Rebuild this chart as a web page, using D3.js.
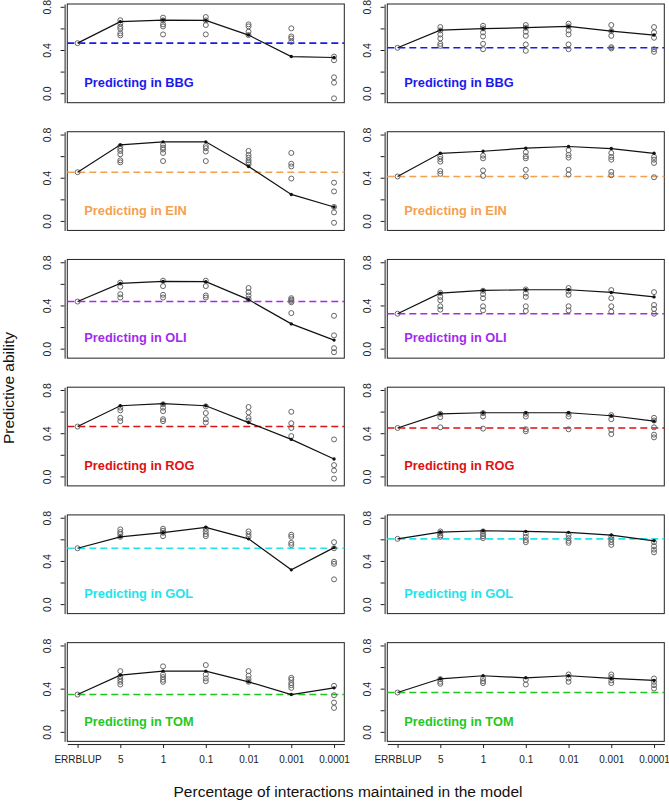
<!DOCTYPE html>
<html><head><meta charset="utf-8">
<script src="https://cdn.jsdelivr.net/npm/d3@7"></script>
<style>body{margin:0;background:#fff}svg{display:block}</style>
</head><body><div id="chart"></div>
<script>
const categories = ["ERRBLUP","5","1","0.1","0.01","0.001","0.0001"];
const environments = ["BBG","EIN","OLI","ROG","GOL","TOM"];
const envColors = ["#1a1aee","#f4a050","#a32af0","#dd1111","#22e4ec","#1ec81e"];
const yTicks = [0.0,0.2,0.4,0.6,0.8];
const yTickLabels = ["0.0","","0.4","","0.8"];

// mean line values (first = ERRBLUP baseline)
const leftMeans = [
  [0.468,0.667,0.682,0.679,0.543,0.344,0.335],
  [0.456,0.709,0.737,0.737,0.509,0.250,0.134],
  [0.441,0.609,0.628,0.625,0.459,0.234,0.084],
  [0.466,0.659,0.678,0.659,0.503,0.347,0.166],
  [0.522,0.628,0.666,0.716,0.609,0.322,0.528],
  [0.350,0.530,0.567,0.567,0.468,0.350,0.412]
];
const rightMeans = [
  [0.425,0.589,0.602,0.611,0.623,0.580,0.543],
  [0.416,0.631,0.650,0.678,0.694,0.675,0.631],
  [0.328,0.519,0.544,0.550,0.550,0.525,0.484],
  [0.453,0.584,0.594,0.594,0.594,0.566,0.516],
  [0.609,0.672,0.684,0.678,0.669,0.644,0.591],
  [0.369,0.496,0.524,0.505,0.524,0.499,0.481]
];
// individual predictions (grey circles), per category
const leftPoints = [
  [[0.468],[0.68,0.65,0.62,0.60,0.56,0.54],[0.704,0.679,0.642,0.623,0.549],[0.71,0.679,0.636,0.549],[0.642,0.623,0.574,0.543],[0.605,0.53,0.512,0.48],[0.344,0.31,0.152,0.102,-0.043]],
  [[0.456],[0.697,0.672,0.653,0.622,0.566,0.547],[0.709,0.684,0.666,0.634,0.559],[0.697,0.678,0.647,0.559],[0.653,0.616,0.591,0.566,0.547,0.528],[0.634,0.534,0.509,0.397],[0.359,0.278,0.134,0.084,-0.0125]],
  [[0.441],[0.616,0.578,0.509,0.478],[0.634,0.584,0.503,0.478],[0.634,0.584,0.497,0.478],[0.566,0.528,0.497,0.466],[0.472,0.459,0.447,0.434,0.334],[0.309,0.128,0.009,-0.028]],
  [[0.466],[0.641,0.616,0.547,0.516],[0.672,0.641,0.609,0.534,0.516],[0.653,0.591,0.534,0.503],[0.647,0.597,0.547,0.522],[0.603,0.497,0.453,0.378],[0.347,0.109,0.059,-0.016]],
  [[0.522],[0.697,0.672,0.653,0.628],[0.703,0.684,0.666,0.634],[0.703,0.678,0.653,0.634],[0.678,0.653,0.628],[0.647,0.628,0.572,0.553],[0.578,0.522,0.397,0.378,0.234]],
  [[0.350],[0.567,0.518,0.493,0.468,0.443],[0.611,0.536,0.512,0.487,0.468],[0.623,0.536,0.499,0.474],[0.567,0.524,0.493,0.468],[0.505,0.487,0.456,0.437,0.412],[0.431,0.344,0.276,0.226]]
];
const rightPoints = [
  [[0.425],[0.617,0.586,0.549,0.512,0.462,0.443],[0.629,0.605,0.567,0.53,0.462,0.412],[0.636,0.611,0.574,0.536,0.456,0.397],[0.648,0.623,0.586,0.549,0.456,0.412],[0.636,0.58,0.536,0.431,0.419],[0.617,0.567,0.518,0.412,0.388]],
  [[0.416],[0.603,0.578,0.553,0.466,0.441],[0.609,0.584,0.472,0.422],[0.641,0.603,0.584,0.478,0.416],[0.659,0.616,0.591,0.478,0.434],[0.634,0.597,0.572,0.459,0.428],[0.597,0.572,0.541,0.409]],
  [[0.328],[0.522,0.484,0.453,0.397,0.366],[0.541,0.509,0.472,0.397,0.359],[0.553,0.516,0.484,0.397,0.353],[0.566,0.534,0.503,0.397,0.359],[0.547,0.472,0.397,0.347],[0.528,0.409,0.372,0.328]],
  [[0.453],[0.584,0.553,0.459],[0.591,0.559,0.447],[0.584,0.559,0.441,0.422],[0.584,0.559,0.441],[0.572,0.534,0.434,0.397],[0.547,0.522,0.459,0.391,0.366]],
  [[0.609],[0.678,0.659,0.641,0.628],[0.678,0.653,0.634,0.616],[0.659,0.628,0.597,0.578],[0.647,0.616,0.591,0.572],[0.628,0.603,0.578,0.553],[0.578,0.541,0.509,0.484]],
  [[0.369],[0.493,0.468,0.450],[0.499,0.474,0.456],[0.487,0.443],[0.536,0.499,0.468],[0.536,0.512,0.481,0.456],[0.499,0.468,0.437,0.406]]
];

const W = 669, H = 802;
const svg = d3.select("#chart").append("svg").attr("width", W).attr("height", H)
  .style("font-family", "'Liberation Sans', Arial, Helvetica, sans-serif");

const colLeft = [67.3, 387.3];
const boxW = 277;
const rowTop0 = 4, rowPitch = 127.73, boxH = 98.7;

function drawPanel(col, row, means, points) {
  const x0 = colLeft[col], y0 = rowTop0 + row * rowPitch;
  const x = d3.scaleLinear().domain([0.76, 7.24]).range([x0, x0 + boxW]);
  const y = d3.scaleLinear().domain([-0.0833, 0.8306]).range([y0 + boxH, y0]);
  const color = envColors[row];
  const g = svg.append("g");

  // y axis (offset slightly from box, R-style)
  const yAxisG = g.append("g").attr("transform", `translate(${x0 - 2.7},0)`)
    .call(d3.axisLeft(y).tickValues(yTicks).tickSize(4).tickSizeOuter(0)
      .tickFormat((d, i) => yTickLabels[i]));
  yAxisG.select(".domain").attr("stroke", "#222");
  yAxisG.selectAll(".tick line").attr("stroke", "#222");
  yAxisG.selectAll(".tick text")
    .attr("font-size", 10.5).attr("fill", "#222")
    .attr("x", 0).attr("dy", 0)
    .attr("text-anchor", "middle")
    .attr("transform", d => `translate(-13.5,${y(d)}) rotate(-90)`)
    .attr("y", 0);
  yAxisG.selectAll(".tick").attr("transform", null);
  yAxisG.selectAll(".tick line").attr("transform", d => `translate(0,${y(d)})`);

  // x axis only in bottom row
  if (row === 5) {
    const xAxisG = g.append("g").attr("transform", `translate(0,${y0 + boxH + 2.7})`)
      .call(d3.axisBottom(x).tickValues(d3.range(1, 8)).tickSize(4).tickSizeOuter(0)
        .tickFormat(d => categories[d - 1]));
    xAxisG.select(".domain").attr("stroke", "#222");
    xAxisG.selectAll(".tick line").attr("stroke", "#222");
    xAxisG.selectAll(".tick text").attr("font-size", 10).attr("fill", "#222").attr("dy", "0.71em").attr("y", 12);
  }

  // box
  g.append("rect").attr("x", x0).attr("y", y0).attr("width", boxW).attr("height", boxH)
    .attr("fill", "none").attr("stroke", "#222").attr("stroke-width", 1);

  // baseline dashed line
  g.append("line").attr("x1", x0).attr("x2", x0 + boxW)
    .attr("y1", y(means[0])).attr("y2", y(means[0]))
    .attr("stroke", color).attr("stroke-width", 1.6).attr("stroke-dasharray", "7,4");

  // grey circles
  const pts = [];
  points.forEach((arr, i) => arr.forEach(v => pts.push({ i: i + 1, v })));
  g.append("g").selectAll("circle").data(pts).enter().append("circle")
    .attr("cx", d => x(d.i)).attr("cy", d => y(d.v)).attr("r", 2.5)
    .attr("fill", "none").attr("stroke", "#666").attr("stroke-width", 1);

  // mean line
  const line = d3.line().x((d, i) => x(i + 1)).y(d => y(d));
  g.append("path").datum(means).attr("d", line)
    .attr("fill", "none").attr("stroke", "#111").attr("stroke-width", 1.2);
  g.append("g").selectAll("circle").data(means.slice(1)).enter().append("circle")
    .attr("cx", (d, i) => x(i + 2)).attr("cy", d => y(d)).attr("r", 1.7)
    .attr("fill", "#111");

  // label
  g.append("text").attr("x", x0 + 17).attr("y", y0 + 83)
    .attr("font-size", 12.8).attr("font-weight", "bold").attr("fill", color)
    .text("Predicting in " + environments[row]);
}

for (let r = 0; r < 6; r++) {
  drawPanel(0, r, leftMeans[r], leftPoints[r]);
  drawPanel(1, r, rightMeans[r], rightPoints[r]);
}

svg.append("text").attr("transform", "translate(14,388) rotate(-90)")
  .attr("text-anchor", "middle").attr("font-size", 15.5).attr("fill", "#111")
  .text("Predictive ability");
svg.append("text").attr("x", 348).attr("y", 797)
  .attr("text-anchor", "middle").attr("font-size", 15.5).attr("fill", "#111")
  .text("Percentage of interactions maintained in the model");
</script></body></html>
